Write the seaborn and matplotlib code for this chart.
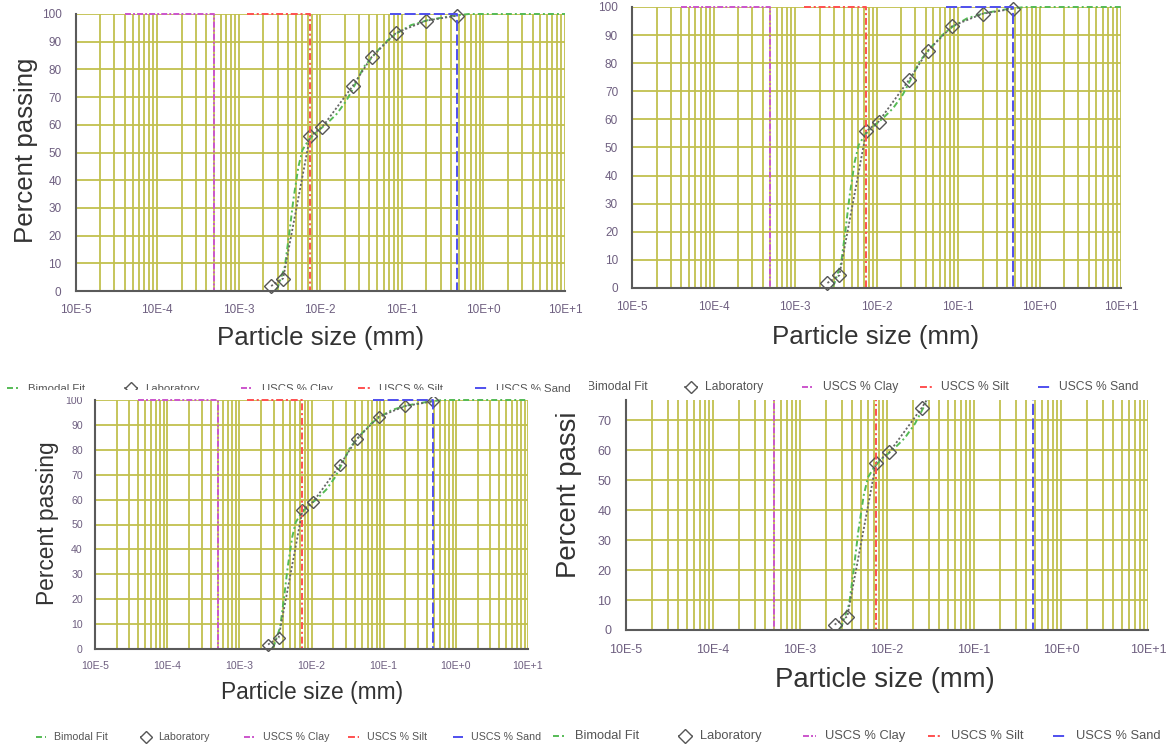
import numpy as np
import pandas as pd
import matplotlib
matplotlib.use("Agg")
import matplotlib.pyplot as plt
import seaborn as sns
from matplotlib.transforms import IdentityTransform, Bbox
from matplotlib.lines import Line2D
from matplotlib.patches import Rectangle
from matplotlib.ticker import FixedLocator, NullFormatter

# ---------------- data (particle size in mm, percent passing) ----------------
lab_size = [0.025, 0.035, 0.075, 0.106, 0.25, 0.425, 0.85, 2.0, 4.75]
lab_pass = [1.8, 4.5, 55.8, 59.2, 74.0, 84.4, 93.2, 97.6, 99.4]

fit_size = [0.029, 0.0304, 0.0368, 0.0417, 0.0468, 0.054, 0.0605, 0.072, 0.087,
            0.121, 0.16, 0.21, 0.27, 0.34, 0.51, 0.67, 0.85, 1.3, 2.1, 4.1, 6.6, 100.0]
fit_pass = [0.5, 1.6, 8.8, 20.8, 32.9, 44.9, 50.9, 54.5, 57.0,
            60.5, 64.0, 68.8, 74.8, 80.8, 86.9, 90.5, 92.9, 96.0, 97.8, 99.3, 100.0, 100.0]

clay_size = [0.0004, 0.005, 0.005]
clay_pass = [100, 100, 0]
silt_size = [0.0128, 0.075, 0.075]
silt_pass = [100, 100, 0]
sand_size = [0.71, 4.75, 4.75]
sand_pass = [100, 100, 0]

decade_ticks = [1e-4, 1e-3, 1e-2, 1e-1, 1e0, 1e1, 1e2]
decade_labels = ["10E-5", "10E-4", "10E-3", "10E-2", "10E-1", "10E+0", "10E+1"]
legend_labels = ["Bimodal Fit", "Laboratory", "USCS % Clay", "USCS % Silt", "USCS % Sand"]
y_titles = ["Percent passing", None, "Percent passing", "Percent passi"]

# ---------------- styles ----------------
GRID = "#c2c04e"
AXC = "#5a5a5a"
TICKC = "#6e5f80"
LABC = "#333333"
LEGC = "#555555"
C_FIT, C_LAB, C_CLAY, C_SILT, C_SAND = "#55bb55", "#666666", "#cc55cc", "#ff5050", "#4f4fee"
LS_FIT = (0, (4.3, 2.2, 1.4, 2.2))
LS_LAB = (0, (1.5, 1.5))
LS_CLAY = (0, (4.3, 1.5, 1.4, 1.5))
LS_SILT = (0, (5.0, 2.0, 1.5, 2.0))
LS_SAND = (0, (8.0, 2.5))

sns.set_style("white")
plt.rcParams["font.family"] = ["Liberation Sans", "DejaVu Sans"]
plt.rcParams["lines.scale_dashes"] = False

W, H = 1168, 749
fig = plt.figure(figsize=(W / 100, H / 100), dpi=100)
ID = IdentityTransform()

series = [
    (fit_size, fit_pass, C_FIT, LS_FIT, False, 1.4),
    (lab_size, lab_pass, C_LAB, LS_LAB, True, 1.3),
    (clay_size, clay_pass, C_CLAY, LS_CLAY, False, 1.4),
    (silt_size, silt_pass, C_SILT, LS_SILT, False, 1.4),
    (sand_size, sand_pass, C_SAND, LS_SAND, False, 1.4),
]

panels = [
    dict(box=(75.5, 14, 565, 291), ytop=100, s=1.0, tf=8.5, lf=18.6,
         xl=(321, 338), yl=(26, 150)),
    dict(box=(632, 7, 1121, 288), ytop=100, s=1.0, tf=8.5, lf=18.6,
         xl=(876, 337), yl=None),
    dict(box=(95, 400, 528, 649), ytop=100, s=0.88, tf=7.6, lf=16.4,
         xl=(312, 692), yl=(48, 523)),
    dict(box=(626, 400, 1148, 630), ytop=76.67, s=1.065, tf=9.0, lf=19.8,
         xl=(885, 680), yl=(569, 578)),
]

minor_x = [m * 10.0 ** e for e in range(-4, 2) for m in range(2, 10)]

for i, p in enumerate(panels):
    l, t, r, b = p["box"]
    s = p["s"]
    ax = fig.add_axes([l / W, 1 - b / H, (r - l) / W, (b - t) / H])
    ax.set_xscale("log")
    ax.set_xlim(1e-4, 1e2)
    ax.set_ylim(0, p["ytop"])
    clip = i == 3
    for xs, ys, c, ls, mk, lw in series:
        df = pd.DataFrame({"size": xs, "pass": ys})
        kw = {}
        if mk:
            kw = dict(marker="D", markersize=6.8 * s, markerfacecolor="none",
                      markeredgecolor="#555555", markeredgewidth=1.0)
        sns.lineplot(data=df, x="size", y="pass", ax=ax, sort=False, estimator=None,
                     color=c, linestyle=ls, linewidth=lw, clip_on=clip, zorder=3,
                     legend=False, **kw)
    ax.xaxis.set_major_locator(FixedLocator(decade_ticks))
    ax.set_xticklabels(decade_labels)
    ax.xaxis.set_minor_locator(FixedLocator(minor_x))
    ax.xaxis.set_minor_formatter(NullFormatter())
    yt = list(range(0, int(p["ytop"]) + 1, 10))
    ax.yaxis.set_major_locator(FixedLocator(yt))
    ax.yaxis.set_minor_locator(FixedLocator([v + 5 for v in yt if v + 5 < p["ytop"]]))
    ax.grid(which="both", axis="x", color=GRID, lw=1.3)
    ax.grid(which="major", axis="y", color=GRID, lw=1.3)
    ax.set_axisbelow(True)
    for sp in ("top", "right"):
        ax.spines[sp].set_visible(False)
    for sp in ("left", "bottom"):
        ax.spines[sp].set_color(AXC)
        ax.spines[sp].set_linewidth(1.5)
        ax.spines[sp].set_zorder(4)
    ax.tick_params(axis="x", which="major", direction="inout", length=8 * s, width=1.2,
                   color=AXC, labelsize=p["tf"], labelcolor=TICKC, pad=5.5 * s)
    ax.tick_params(axis="y", which="major", direction="inout", length=8 * s, width=1.2,
                   color=AXC, labelsize=p["tf"], labelcolor=TICKC, pad=6.0 * s)
    ax.tick_params(which="minor", direction="inout", length=4 * s, width=1.0, color=AXC)
    ax.patch.set_alpha(0)

    ax.set_xlabel("Particle size (mm)", fontsize=p["lf"], color=LABC)
    ax.xaxis.label.set_va("center")
    ax.xaxis.label.set_ha("center")
    ax.xaxis.set_label_coords(p["xl"][0], H - p["xl"][1], transform=ID)
    if y_titles[i] is not None:
        ax.set_ylabel(y_titles[i], fontsize=p["lf"], color=LABC)
        lab = ax.yaxis.label
        if i == 3:
            # the title is cut off by the top of this screenshot: only its start shows
            lab.set_ha("left")
            lab.set_va("center")
        else:
            lab.set_ha("center")
            lab.set_va("center")
        ax.yaxis.set_label_coords(p["yl"][0], H - p["yl"][1], transform=ID)
    else:
        ax.set_ylabel("")


def clipped(artist, cb):
    if cb is not None:
        artist.set_clip_box(cb)
        artist.set_clip_on(True)
    return artist


# ---------------- legend rows (drawn in pixel coordinates) ----------------
def legend_row(x0, step, yc, fs, s, cb=None, ys=None):
    ys = yc if ys is None else ys
    for k, name in enumerate(legend_labels):
        xs_, ys_, c, ls, mk, lw = series[k]
        tx = x0 + k * step
        if mk:
            fig.add_artist(clipped(Line2D([tx - 21 * s, tx - 7 * s], [H - ys, H - ys],
                                          transform=ID, color=C_LAB, lw=1.2,
                                          linestyle=LS_LAB), cb))
            fig.add_artist(clipped(Line2D([tx - 14 * s], [H - ys], transform=ID, marker="D",
                                          markersize=6.5 * s, markerfacecolor="white",
                                          markeredgecolor="#555555", markeredgewidth=1.0,
                                          linestyle="None"), cb))
        else:
            fig.add_artist(clipped(Line2D([tx - 21 * s, tx - 9 * s], [H - ys, H - ys],
                                          transform=ID, color=c, lw=1.4, linestyle=ls), cb))
        t = fig.text(tx, H - yc, name, transform=ID, fontsize=fs, color=LEGC,
                     ha="left", va="center")
        clipped(t, cb)


# top-left row: lower half hidden (left of x=540) under the next panel
legend_row(28, 117, 389.0, 8.2, 1.0, ys=387.5)
fig.add_artist(Rectangle((0, H - 396.5), 540, 7.0, transform=ID, facecolor="white",
                         edgecolor="none", zorder=3.5))
# top-right row: its left edge is cut off
legend_row(587, 118, 387, 8.7, 1.0, cb=Bbox([[589, 0], [W, H]]))
# bottom-left row
legend_row(54, 104.3, 737, 7.7, 0.88)
# bottom-right row
legend_row(575, 125.2, 736, 9.3, 1.065)

fig.savefig("out.png", dpi=100, facecolor="white")
